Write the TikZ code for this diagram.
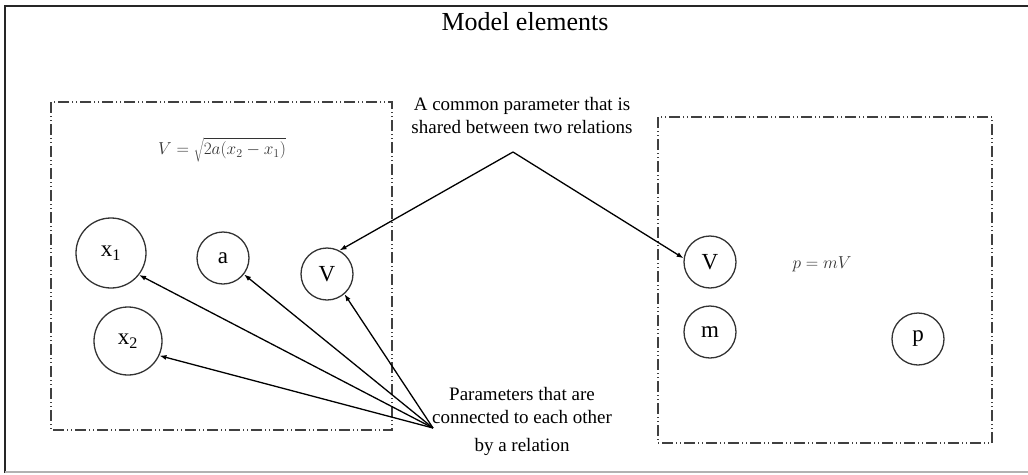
\documentclass[tikz,border=0pt]{standalone}
\usepackage{fontspec}
\setmainfont{Liberation Serif}
\usetikzlibrary{arrows.meta}
\begin{document}
\begin{tikzpicture}[x=1pt,y=-1pt,
  param/.style={draw=black!80,line width=1.3pt,circle,inner sep=0pt,font=\fontsize{23}{25}\selectfont},
  relbox/.style={draw=black!75,line width=1.4pt,dash pattern=on 11pt off 3pt on 1pt off 3pt on 1pt off 3pt},
  conn/.style={line width=1.3pt,-{Latex[length=7pt,width=5pt]}},
  lbl/.style={font=\fontsize{19}{23}\selectfont,align=center,inner sep=0pt},
  formula/.style={text=black!80,font=\fontsize{17.5}{19}\selectfont,inner sep=0pt}]
\useasboundingbox (0,0) rectangle (1028,474);
% outer frame
\draw[line width=1.8pt,black!85] (5,473) -- (5,6) -- (1028,6);
\draw[line width=1.5pt,black!30] (5,472) -- (1028,472);
% title
\node[font=\fontsize{26}{28}\selectfont,inner sep=0pt] (title) at (525,22) {Model elements};
% relation boxes
\draw[relbox] (51,102) rectangle (392,430);
\draw[relbox] (658,117) rectangle (992,443);
% formulas
\node[formula] (f1) at (222,150) {$V = \sqrt{2a(x_2 - x_1)}$};
\node[formula] (f2) at (822,264) {$p = mV$};
% parameters, left relation
\node[param,minimum size=70pt] (x1) at (111,253) {x\textsubscript{1}};
\node[param,minimum size=52pt] (a) at (223,258) {a};
\node[param,minimum size=52pt] (vL) at (327,274) {V};
\node[param,minimum size=68pt] (x2) at (128,341) {x\textsubscript{2}};
% parameters, right relation
\node[param,minimum size=52pt] (vR) at (710,262) {V};
\node[param,minimum size=52pt] (m) at (710,332) {m};
\node[param,minimum size=52pt] (p) at (918,339) {p};
% labels
\node[lbl] (common) at (522,115) {A common parameter that is\\shared between two relations};
\node[lbl] (conlbl) at (522,421) {Parameters that are\\connected to each other\\[5pt]by a relation};
% connectors
\coordinate (apex) at (513,152);
\coordinate (src) at (433,428);
\draw[conn] (apex) -- (vL.62);
\draw[conn] (apex) -- (vR.172);
\draw[conn] (src) -- (x1.-38);
\draw[conn] (src) -- (a.-38);
\draw[conn] (src) -- (vL.-49);
\draw[conn] (src) -- (x2.-25);
\end{tikzpicture}
\end{document}
